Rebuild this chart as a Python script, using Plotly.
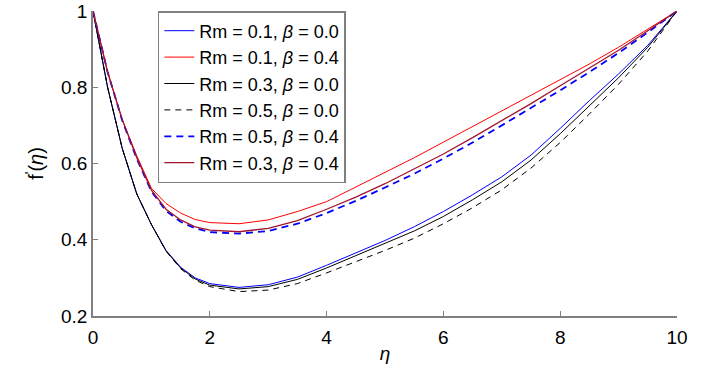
import plotly.graph_objects as go

# Eixo eta
eta = [0, 0.25, 0.5, 0.75, 1.0, 1.25, 1.5, 1.75, 2.0, 2.5, 3.0, 3.5, 4.0,
       4.5, 5.0, 5.5, 6.0, 6.5, 7.0, 7.5, 8.0, 8.5, 9.0, 9.5, 10.0]

# Rm = 0.1, beta = 0.0
f_rm01_b00 = [1.0, 0.80, 0.64, 0.52, 0.44, 0.372, 0.328, 0.300, 0.285, 0.275, 0.282, 0.302, 0.333,
              0.366, 0.398, 0.434, 0.474, 0.518, 0.565, 0.622, 0.692, 0.765, 0.835, 0.910, 1.0]
# Rm = 0.1, beta = 0.4
f_rm01_b04 = [1.0, 0.84, 0.715, 0.62, 0.535, 0.495, 0.470, 0.453, 0.445, 0.442, 0.452, 0.474, 0.500,
              0.538, 0.575, 0.615, 0.656, 0.697, 0.738, 0.779, 0.820, 0.861, 0.905, 0.952, 1.0]
# Rm = 0.3, beta = 0.0
f_rm03_b00 = [1.0, 0.80, 0.64, 0.52, 0.44, 0.371, 0.326, 0.297, 0.281, 0.271, 0.277, 0.296, 0.326,
              0.358, 0.389, 0.423, 0.461, 0.505, 0.552, 0.609, 0.678, 0.752, 0.825, 0.905, 1.0]
# Rm = 0.5, beta = 0.0
f_rm05_b00 = [1.0, 0.80, 0.64, 0.52, 0.44, 0.370, 0.324, 0.294, 0.277, 0.264, 0.268, 0.285, 0.313,
              0.342, 0.372, 0.404, 0.442, 0.484, 0.531, 0.588, 0.655, 0.730, 0.808, 0.895, 1.0]
# Rm = 0.5, beta = 0.4
f_rm05_b04 = [1.0, 0.84, 0.713, 0.612, 0.527, 0.476, 0.447, 0.430, 0.420, 0.416, 0.423, 0.442, 0.470,
              0.502, 0.537, 0.573, 0.613, 0.655, 0.700, 0.745, 0.792, 0.840, 0.890, 0.944, 1.0]
# Rm = 0.3, beta = 0.4
f_rm03_b04 = [1.0, 0.84, 0.715, 0.615, 0.530, 0.480, 0.452, 0.434, 0.425, 0.421, 0.430, 0.450, 0.480,
              0.512, 0.547, 0.585, 0.625, 0.668, 0.712, 0.757, 0.804, 0.850, 0.897, 0.948, 1.0]

series = [
    ("Rm = 0.1, <i>β</i> = 0.0", f_rm01_b00, "#0000ff", "solid", 1),
    ("Rm = 0.1, <i>β</i> = 0.4", f_rm01_b04, "#ff0000", "solid", 1),
    ("Rm = 0.3, <i>β</i> = 0.0", f_rm03_b00, "#000000", "solid", 1),
    ("Rm = 0.5, <i>β</i> = 0.0", f_rm05_b00, "#000000", "6px,5px", 1),
    ("Rm = 0.5, <i>β</i> = 0.4", f_rm05_b04, "#0000ff", "7px,5px", 1.8),
    ("Rm = 0.3, <i>β</i> = 0.4", f_rm03_b04, "#a2142f", "solid", 1.3),
]

fig = go.Figure()
for nome, valores, cor, tracejado, largura in series:
    fig.add_trace(go.Scatter(
        x=eta, y=valores, mode="lines", name=nome,
        line=dict(color=cor, dash=tracejado, width=largura),
    ))

eixo = dict(
    showline=True, linecolor="#808080", linewidth=1.5,
    ticks="inside", ticklen=5, tickcolor="#808080",
    showgrid=False, zeroline=False, mirror=False, automargin=False,
    tickfont=dict(size=19, color="#000000"),
)

fig.update_xaxes(range=[0, 10], dtick=2, ticklabelstandoff=3, **eixo,
                 title=dict(text="<i>η</i>", font=dict(size=19), standoff=0))
fig.update_yaxes(range=[0.2, 1], dtick=0.2, tickformat="~g", **eixo,
                 title=dict(text="f<sup>'</sup>(<i>η</i>)", font=dict(size=20), standoff=12))

fig.update_layout(
    width=713, height=372,
    margin=dict(l=93, r=36, t=11, b=56),
    plot_bgcolor="white", paper_bgcolor="white",
    font=dict(family="Liberation Sans, Arial, sans-serif", color="#000000"),
    legend=dict(
        x=0.111, y=1.0, xanchor="left", yanchor="top",
        bordercolor="#808080", borderwidth=1.5, bgcolor="white",
        font=dict(size=18), tracegroupgap=0,
    ),
)

# tira a margem padrão do body para a figura ficar no canto da página
fig.write_html("out.html", config={"displayModeBar": False},
               post_script="document.body.style.margin = '0';")
